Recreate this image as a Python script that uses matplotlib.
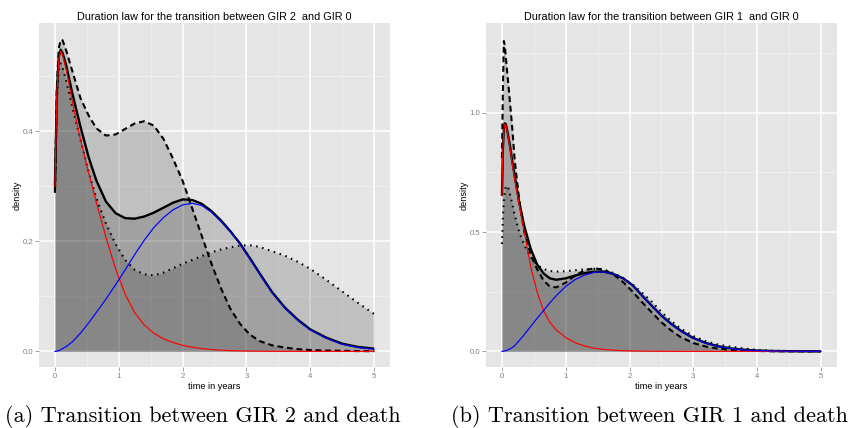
import matplotlib
matplotlib.use("Agg")
from matplotlib import pyplot as plt
from matplotlib.ticker import MultipleLocator

plt.rcParams["font.family"] = ["Liberation Sans", "DejaVu Sans"]

# GIR 2 -> death
t_gir2 = [0, 0.03, 0.06, 0.09, 0.12, 0.18, 0.27, 0.4, 0.53, 0.65,
          0.8, 0.95, 1.1, 1.25, 1.4, 1.55, 1.7, 1.85, 2.0, 2.15,
          2.3, 2.45, 2.6, 2.75, 2.9, 3.05, 3.2, 3.4, 3.6, 3.8,
          4.0, 4.25, 4.5, 4.75, 5.0]
gir2_fit = [0.30, 0.47, 0.535, 0.548, 0.542, 0.518, 0.47, 0.408, 0.352, 0.31,
            0.272, 0.251, 0.242, 0.241, 0.245, 0.252, 0.261, 0.27, 0.276, 0.275,
            0.268, 0.255, 0.238, 0.218, 0.196, 0.17, 0.143, 0.108, 0.08, 0.058,
            0.04, 0.025, 0.014, 0.008, 0.005]
gir2_early = [0.30, 0.47, 0.53, 0.545, 0.538, 0.51, 0.455, 0.385, 0.324, 0.27,
              0.207, 0.15, 0.104, 0.07, 0.048, 0.033, 0.023, 0.016, 0.011, 0.0075,
              0.005, 0.0033, 0.0022, 0.0014, 0.0009, 0.0006, 0.0004, 0.0002, 0.0001, 0.0001,
              0, 0, 0, 0, 0]
gir2_late = [0, 0.0004, 0.0015, 0.003, 0.005, 0.009, 0.017, 0.033, 0.052, 0.071,
             0.095, 0.121, 0.148, 0.176, 0.202, 0.225, 0.243, 0.257, 0.266, 0.269,
             0.265, 0.253, 0.236, 0.217, 0.195, 0.169, 0.142, 0.107, 0.079, 0.057,
             0.039, 0.024, 0.013, 0.007, 0.004]
gir2_dash = [0.29, 0.48, 0.55, 0.566, 0.565, 0.545, 0.51, 0.46, 0.428, 0.405,
             0.392, 0.394, 0.404, 0.414, 0.418, 0.41, 0.386, 0.35, 0.31, 0.26,
             0.21, 0.16, 0.115, 0.077, 0.05, 0.031, 0.019, 0.011, 0.007, 0.004,
             0.0025, 0.0015, 0.001, 0.0005, 0.0003]
gir2_dot = [0.288, 0.45, 0.515, 0.523, 0.515, 0.49, 0.445, 0.385, 0.325, 0.278,
            0.232, 0.195, 0.166, 0.148, 0.14, 0.138, 0.143, 0.151, 0.159, 0.166,
            0.173, 0.18, 0.185, 0.189, 0.192, 0.193, 0.19, 0.182, 0.174, 0.163,
            0.15, 0.13, 0.109, 0.088, 0.068]

# GIR 1 -> death
t_gir1 = [0, 0.015, 0.03, 0.045, 0.06, 0.08, 0.1, 0.13, 0.16, 0.2,
          0.27, 0.35, 0.45, 0.55, 0.65, 0.75, 0.85, 1.0, 1.15, 1.3,
          1.45, 1.6, 1.75, 1.9, 2.05, 2.2, 2.35, 2.5, 2.65, 2.8,
          3.0, 3.2, 3.4, 3.6, 3.8, 4.0, 4.25, 4.5, 4.75, 5.0]
gir1_fit = [0.652, 0.85, 0.932, 0.955, 0.952, 0.93, 0.90, 0.855, 0.80, 0.735,
            0.625, 0.525, 0.43, 0.365, 0.327, 0.306, 0.3, 0.306, 0.318, 0.328,
            0.334, 0.334, 0.324, 0.306, 0.277, 0.233, 0.191, 0.15, 0.116, 0.087,
            0.056, 0.035, 0.021, 0.012, 0.007, 0.0035, 0.0015, 0.0007, 0.0003, 0.0001]
gir1_early = [0.652, 0.85, 0.93, 0.952, 0.948, 0.925, 0.895, 0.845, 0.79, 0.72,
              0.615, 0.50, 0.355, 0.25, 0.172, 0.122, 0.09, 0.058, 0.036, 0.022,
              0.013, 0.008, 0.005, 0.003, 0.002, 0.001, 0.0007, 0.0004, 0.0002, 0.0001,
              0, 0, 0, 0, 0, 0, 0, 0, 0, 0]
gir1_late = [0, 0.0005, 0.001, 0.002, 0.003, 0.005, 0.007, 0.011, 0.016, 0.024,
             0.045, 0.07, 0.104, 0.138, 0.17, 0.203, 0.233, 0.272, 0.301, 0.32,
             0.331, 0.333, 0.324, 0.305, 0.276, 0.232, 0.19, 0.149, 0.115, 0.086,
             0.055, 0.034, 0.02, 0.012, 0.006, 0.003, 0.0015, 0.0007, 0.0003, 0.0001]
gir1_dash = [0.81, 1.1, 1.3, 1.28, 1.235, 1.175, 1.12, 1.03, 0.94, 0.80,
             0.635, 0.50, 0.405, 0.345, 0.298, 0.272, 0.268, 0.288, 0.318, 0.34,
             0.348, 0.342, 0.322, 0.29, 0.25, 0.205, 0.163, 0.122, 0.088, 0.06,
             0.035, 0.02, 0.011, 0.006, 0.003, 0.0015, 0.0007, 0.0003, 0.0001, 0]
gir1_dot = [0.45, 0.56, 0.63, 0.67, 0.688, 0.694, 0.685, 0.655, 0.62, 0.57,
            0.50, 0.445, 0.395, 0.362, 0.345, 0.337, 0.334, 0.336, 0.34, 0.344,
            0.346, 0.342, 0.328, 0.307, 0.28, 0.245, 0.208, 0.165, 0.128, 0.096,
            0.064, 0.042, 0.028, 0.019, 0.012, 0.006, 0.003, 0.0015, 0.0007, 0.0003]

x_ticks = [0, 1, 2, 3, 4, 5]


def draw_panel(ax, t, fit, early, late, dash, dot, yticks, yminor, ymax, title):
    ax.set_facecolor("#e5e5e5")
    for s in ax.spines.values():
        s.set_visible(False)
    ax.set_axisbelow(True)

    # shaded areas under the three mixtures, overlapping to darker greys
    for y in (fit, dash, dot):
        ax.fill_between(t, y, 0, color="black", alpha=0.16, lw=0)

    ax.plot(t, fit, color="black", lw=1.7, solid_capstyle="butt")
    ax.plot(t, dash, color="black", lw=1.5, ls=(0, (2.8, 1.8)), dash_capstyle="butt")
    ax.plot(t, dot, color="black", lw=1.5, ls=(0, (0.75, 2.2)), dash_capstyle="butt")
    ax.plot(t, early, color="#ff0000", lw=0.85, zorder=3)
    ax.plot(t, late, color="#0000ff", lw=0.85, zorder=3)

    ax.set_xlim(-0.25, 5.25)
    ax.set_ylim(-0.05 * ymax, 1.05 * ymax)
    ax.set_xticks(x_ticks)
    ax.set_xticklabels([str(v) for v in x_ticks])
    ax.set_yticks(yticks)
    ax.set_yticklabels(["%.1f" % v for v in yticks])
    ax.xaxis.set_minor_locator(MultipleLocator(0.5))
    ax.yaxis.set_minor_locator(MultipleLocator(yminor))

    ax.grid(which="major", color="white", lw=1.1)
    ax.grid(which="minor", color="#f2f2f2", lw=0.5)
    ax.tick_params(which="major", length=3.2, width=0.5, color="#7f7f7f",
                   labelcolor="#7f7f7f", labelsize=5.6, pad=1.0)
    ax.tick_params(which="minor", length=0)

    ax.set_xlabel("time in years", fontsize=6.6, labelpad=1.5)
    ax.set_ylabel("density", fontsize=6.6, labelpad=0.5)
    ax.set_title(title, fontsize=7.8, pad=2.5)


fig = plt.figure(figsize=(8.51, 4.28), dpi=100)
ax1 = fig.add_axes([0.0458, 0.1425, 0.4125, 0.8037])
ax2 = fig.add_axes([0.5711, 0.1425, 0.4122, 0.8037])

draw_panel(ax1, t_gir2, gir2_fit, gir2_early, gir2_late, gir2_dash, gir2_dot,
           [0.0, 0.2, 0.4], 0.1, 0.568,
           "Duration law for the transition between GIR 2  and GIR 0")
draw_panel(ax2, t_gir1, gir1_fit, gir1_early, gir1_late, gir1_dash, gir1_dot,
           [0.0, 0.5, 1.0], 0.25, 1.31,
           "Duration law for the transition between GIR 1  and GIR 0")

fig.text(0.2385, 1 - 416.7 / 428, "(a) Transition between GIR 2 and death",
         family="cmr10", fontsize=16, ha="center", va="center")
fig.text(0.7626, 1 - 416.7 / 428, "(b) Transition between GIR 1 and death",
         family="cmr10", fontsize=16, ha="center", va="center")

fig.savefig("out.png", dpi=100)
